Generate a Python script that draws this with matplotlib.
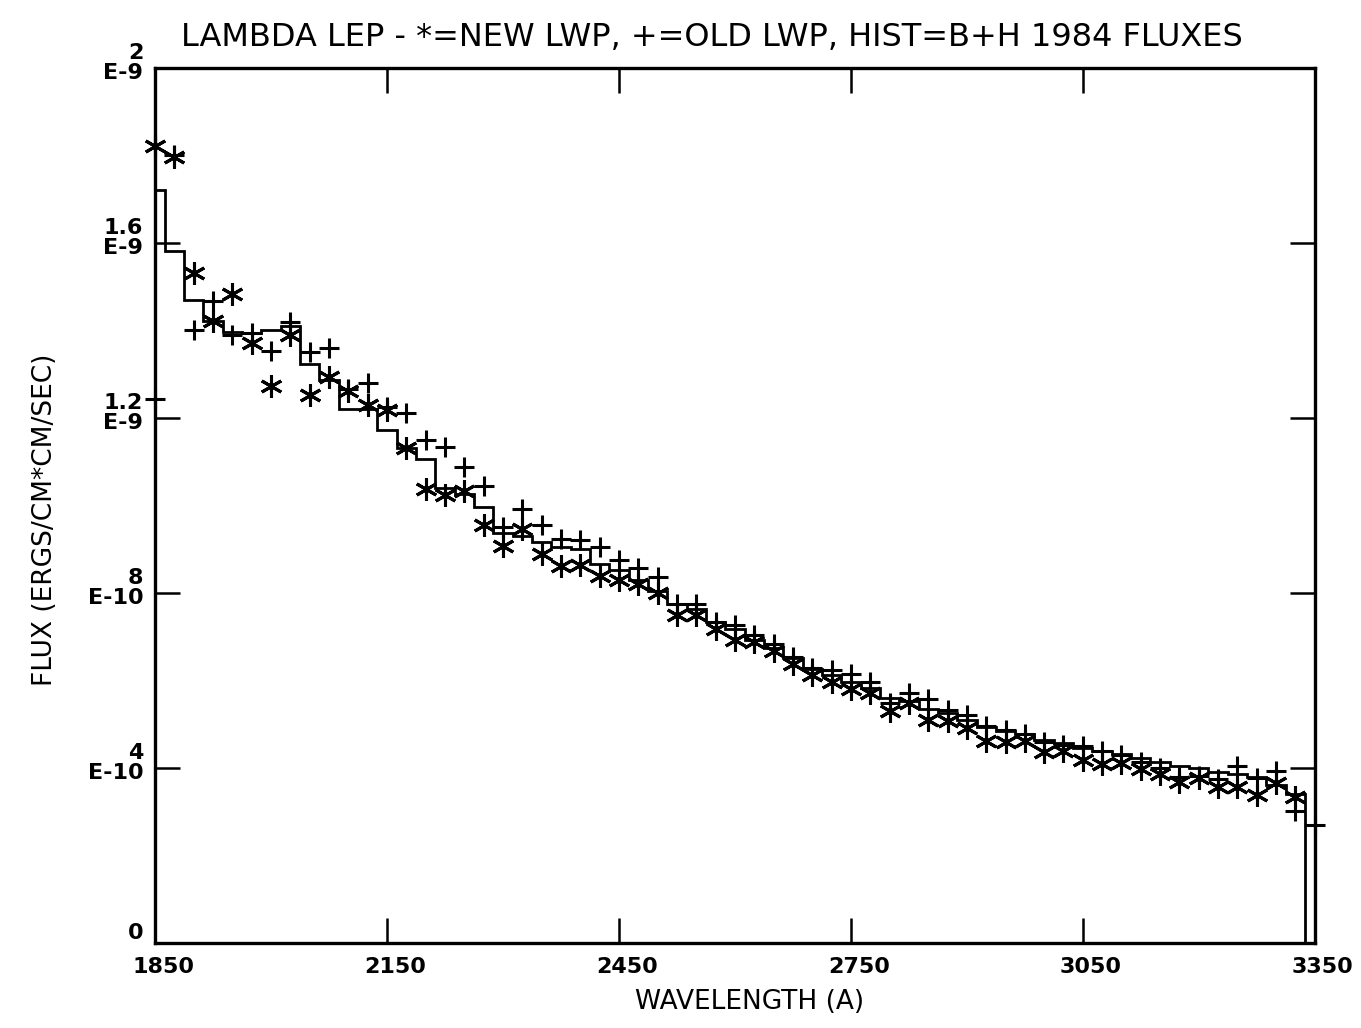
import numpy as np
import matplotlib
matplotlib.use("Agg")
import matplotlib.pyplot as plt
import matplotlib.transforms as mtransforms

plt.rcParams['font.family'] = ['DejaVu Sans']

# wavelength grid (A) of the IUE points, 25 A steps
wl_new = [1850, 1875, 1900, 1925, 1950, 1975, 2000, 2025, 2050, 2075,
          2100, 2125, 2150, 2175, 2200, 2225, 2250, 2275, 2300, 2325,
          2350, 2375, 2400, 2425, 2450, 2475, 2500, 2525, 2550, 2575,
          2600, 2625, 2650, 2675, 2700, 2725, 2750, 2775, 2800, 2825,
          2850, 2875, 2900, 2925, 2950, 2975, 3000, 3025, 3050, 3075,
          3100, 3125, 3150, 3175, 3200, 3225, 3250, 3275, 3300, 3325]
wl_old = wl_new + [3350]

# fluxes in units of 1E-9 erg/cm2/s/A
new_lwp = [1.822, 1.797, 1.532, 1.422, 1.482, 1.371, 1.273, 1.390, 1.251, 1.293,
           1.261, 1.230, 1.217, 1.130, 1.037, 1.024, 1.033, 0.956, 0.908, 0.946,
           0.889, 0.862, 0.863, 0.838, 0.830, 0.821, 0.799, 0.749, 0.749, 0.718,
           0.693, 0.687, 0.667, 0.637, 0.611, 0.597, 0.580, 0.571, 0.530, 0.547,
           0.508, 0.507, 0.491, 0.462, 0.458, 0.461, 0.436, 0.439, 0.417, 0.408,
           0.411, 0.398, 0.385, 0.367, 0.377, 0.357, 0.355, 0.337, 0.365, 0.334]

old_lwp = [1.242, 1.800, 1.401, 1.468, 1.390, 1.394, 1.353, 1.420, 1.350, 1.359,
           1.265, 1.280, 1.225, 1.210, 1.149, 1.134, 1.088, 1.043, 0.950, 0.992,
           0.955, 0.922, 0.920, 0.904, 0.875, 0.857, 0.837, 0.774, 0.774, 0.734,
           0.727, 0.703, 0.683, 0.653, 0.629, 0.623, 0.614, 0.596, 0.549, 0.570,
           0.557, 0.532, 0.521, 0.496, 0.486, 0.477, 0.459, 0.453, 0.449, 0.438,
           0.430, 0.412, 0.399, 0.378, 0.381, 0.375, 0.403, 0.376, 0.393, 0.300,
           0.270]

# Bohlin + Holm 1984 fluxes (histogram, same grid)
bh_1984 = [1.721, 1.581, 1.469, 1.421, 1.396, 1.394, 1.400, 1.410, 1.323, 1.287,
           1.221, 1.219, 1.171, 1.130, 1.105, 1.040, 1.026, 0.995, 0.936, 0.930,
           0.917, 0.905, 0.900, 0.865, 0.852, 0.828, 0.803, 0.774, 0.763, 0.732,
           0.716, 0.691, 0.673, 0.650, 0.626, 0.612, 0.596, 0.583, 0.560, 0.553,
           0.534, 0.525, 0.510, 0.494, 0.484, 0.476, 0.464, 0.457, 0.446, 0.438,
           0.432, 0.422, 0.412, 0.404, 0.399, 0.391, 0.386, 0.378, 0.360, 0.339]

x_ticks = [1850, 2150, 2450, 2750, 3050, 3350]
y_ticks = [0.0, 0.4, 0.8, 1.2, 1.6, 2.0]
y_ticklabels = ['0', '4\nE-10', '8\nE-10', '1.2\nE-9', '1.6\nE-9', '2\nE-9']

title = "LAMBDA LEP - *=NEW LWP, +=OLD LWP, HIST=B+H 1984 FLUXES"

# ---- figure ----
fig = plt.figure(figsize=(13.61, 10.28), dpi=100)
ax = fig.add_axes([0.114, 0.083, 0.852, 0.851])

wl = np.array(wl_new, dtype=float)
edges = np.concatenate([[wl[0]], (wl[:-1] + wl[1:]) / 2, [wl[-1] + 12.5]])
ax.stairs(bh_1984, edges, baseline=0, color='black', lw=2.0)

ax.plot(wl_new, new_lwp, ls='none', marker=(6, 2, 0), ms=16, mew=2.2,
        color='black', clip_on=False)
ax.plot(wl_old, old_lwp, ls='none', marker='+', ms=15, mew=2.2,
        color='black', clip_on=False)

ax.set_xlim(1850, 3350)
ax.set_ylim(0, 2.0)

for sp in ax.spines.values():
    sp.set_linewidth(2.4)

ax.set_xticks(x_ticks)
ax.set_xticklabels([str(v) for v in x_ticks], fontsize=16, fontweight='bold')
ax.set_yticks(y_ticks)
ax.set_yticklabels([])
ax.tick_params(axis='both', direction='in', length=18, width=1.8,
               top=True, right=True)
ax.tick_params(axis='x', pad=10)

# nudge x tick labels to the right like the plotter output
shift = mtransforms.ScaledTranslation(8 / 100, 0, fig.dpi_scale_trans)
for lbl in ax.get_xticklabels():
    lbl.set_transform(lbl.get_transform() + shift)

# two-line y tick labels
for v, txt in zip(y_ticks, y_ticklabels):
    dy = 10 if v == 0 else 5
    ax.annotate(txt, xy=(0, v), xycoords=('axes fraction', 'data'),
                xytext=(-12, dy), textcoords='offset pixels',
                ha='right', va='center', multialignment='right',
                fontsize=16, fontweight='bold', linespacing=1.0)

fig.text(0.523, 1 - 38 / 1028, title, ha='center', va='center',
         fontsize=23)
fig.text(0.551, 1 - 1002 / 1028, 'WAVELENGTH (A)', ha='center', va='center',
         fontsize=19)
fig.text(0.033, 0.494, 'FLUX (ERGS/CM*CM/SEC)', ha='center', va='center',
         rotation=90, fontsize=19)

fig.savefig('out.png', dpi=100)
